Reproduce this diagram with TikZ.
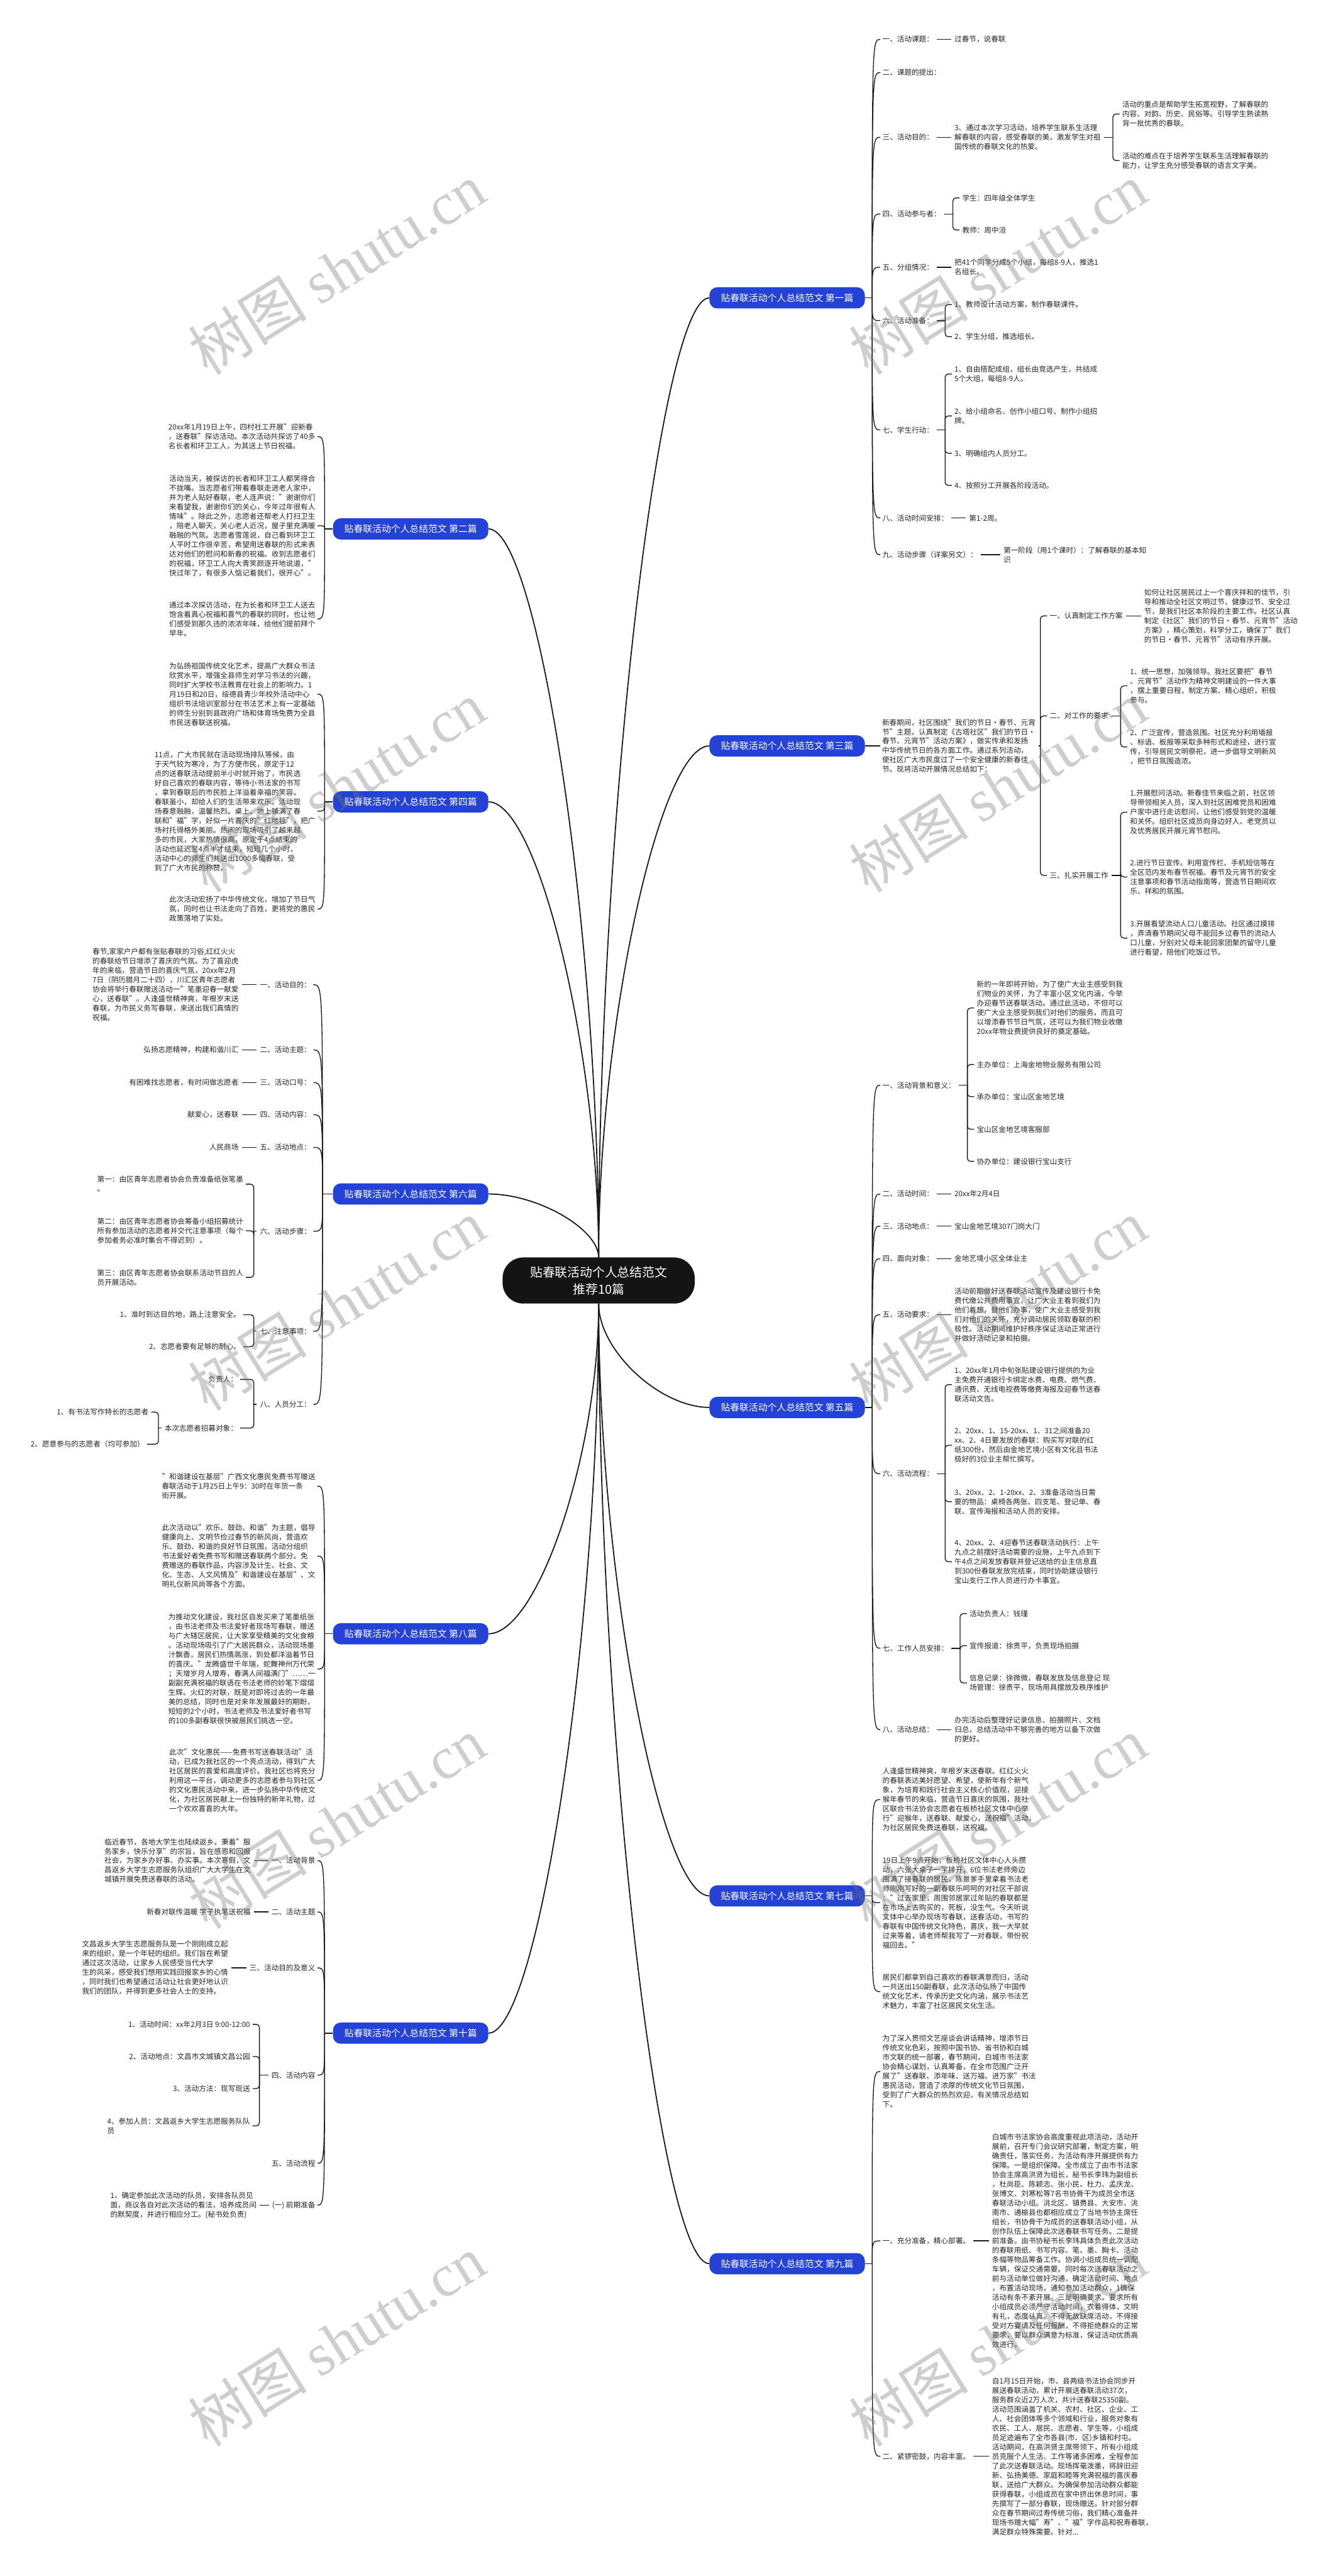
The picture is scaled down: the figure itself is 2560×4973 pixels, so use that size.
\documentclass[tikz,border=0pt]{standalone}
\usepackage{fontspec}
\setmainfont{Noto Sans CJK SC}
\newfontfamily\wmfont{Liberation Serif}
\usetikzlibrary{positioning}
\definecolor{pianblue}{HTML}{2443D6}

\begin{document}
\begin{tikzpicture}[
    x=1pt, y=-1pt,
    root/.style={
        rectangle, fill=black!92, text=white, rounded corners=40pt,
        align=center, minimum width=371pt, minimum height=89pt,
        font=\fontsize{24}{33}\selectfont
    },
    pian/.style={
        rectangle, fill=pianblue, text=white, rounded corners=15pt,
        minimum width=300pt, minimum height=41pt, inner sep=0pt,
        font=\fontsize{18}{22}\selectfont
    },
    lab/.style={inner sep=0pt, text=black!85, font=\fontsize{14.1}{18.2}\selectfont},
    leaf/.style={lab, align=left},
    branch/.style={line width=2.2pt, black!90},
    conn/.style={line width=1.6pt, black!90},
    brk/.style={conn, rounded corners=6pt},
    wm/.style={rotate=32, text=black!55, text opacity=0.35,
        font=\fontsize{115}{115}\selectfont},
]
\fill[white] (0,0) rectangle (2560,4973);
\useasboundingbox (0,0) rectangle (2560,4973);

\node[root] (root) at (1156,2472) {贴春联活动个人总结范文\\推荐10篇};

\node[pian] (p1) at (1520,575) {贴春联活动个人总结范文 第一篇};
\node[pian] (p2) at (793,1021) {贴春联活动个人总结范文 第二篇};
\node[pian] (p3) at (1520,1440) {贴春联活动个人总结范文 第三篇};
\node[pian] (p4) at (793,1548) {贴春联活动个人总结范文 第四篇};
\node[pian] (p5) at (1520,2717) {贴春联活动个人总结范文 第五篇};
\node[pian] (p6) at (793,2305) {贴春联活动个人总结范文 第六篇};
\node[pian] (p7) at (1520,3660) {贴春联活动个人总结范文 第七篇};
\node[pian] (p8) at (793,3154) {贴春联活动个人总结范文 第八篇};
\node[pian] (p9) at (1520,4370) {贴春联活动个人总结范文 第九篇};
\node[pian] (p10) at (793,3925) {贴春联活动个人总结范文 第十篇};

\draw[branch] (root.north) .. controls (1156,1594) and (1274,575) .. (p1.west);
\draw[branch] (root.north) .. controls (1156,1795) and (1039,1021) .. (p2.east);
\draw[branch] (root.north) .. controls (1156,1983) and (1274,1440) .. (p3.west);
\draw[branch] (root.north) .. controls (1156,2032) and (1039,1548) .. (p4.east);
\draw[branch] (root.south) .. controls (1156,2607) and (1274,2717) .. (p5.west);
\draw[branch] (root.north) .. controls (1156,2373) and (1039,2305) .. (p6.east);
\draw[branch] (root.south) .. controls (1156,3031) and (1274,3660) .. (p7.west);
\draw[branch] (root.south) .. controls (1156,2804) and (1039,3154) .. (p8.east);
\draw[branch] (root.south) .. controls (1156,3351) and (1274,4370) .. (p9.west);
\draw[branch] (root.south) .. controls (1156,3151) and (1039,3925) .. (p10.east);

\node[lab, anchor=west] (p1a) at (1704,76) {一、活动课题：};
\node[lab, anchor=west] (p1b) at (1704,140) {二、课题的提出：};
\node[lab, anchor=west] (p1c) at (1704,265) {三、活动目的：};
\node[lab, anchor=west] (p1d) at (1704,413) {四、活动参与者：};
\node[lab, anchor=west] (p1e) at (1704,516) {五、分组情况：};
\node[lab, anchor=west] (p1f) at (1704,619) {六、活动准备：};
\node[lab, anchor=west] (p1g) at (1704,830) {七、学生行动：};
\node[lab, anchor=west] (p1h) at (1704,1000) {八、活动时间安排：};
\node[lab, anchor=west] (p1i) at (1704,1071) {九、活动步骤（详案另文）：};
\node[leaf, right=40pt of p1a] (p1a1) {过春节，说春联};
\node[leaf, right=40pt of p1c] (p1c1) {3、通过本次学习活动，培养学生联系生活理\\解春联的内容，感受春联的美，激发学生对祖\\国传统的春联文化的热爱。};
\node[leaf, anchor=west] (p1c2) at (2167,220) {活动的重点是帮助学生拓宽视野，了解春联的\\内容、对韵、历史、民俗等。引导学生熟读熟\\背一批优秀的春联。};
\node[leaf, anchor=west] (p1c3) at (2167,310) {活动的难点在于培养学生联系生活理解春联的\\能力，让学生充分感受春联的语言文字美。};
\node[leaf, anchor=west] (p1d1) at (1858,382) {学生：四年级全体学生};
\node[leaf, anchor=west] (p1d2) at (1858,444) {教师：周中洹};
\node[leaf, right=40pt of p1e] (p1e1) {把41个同学分成5个小组，每组8-9人，推选1\\名组长。};
\node[leaf, anchor=west] (p1f1) at (1843,588) {1、教师设计活动方案，制作春联课件。};
\node[leaf, anchor=west] (p1f2) at (1843,650) {2、学生分组，推选组长。};
\node[leaf, anchor=west] (p1g1) at (1843,722) {1、自由搭配成组，组长由竞选产生，共结成\\5个大组，每组8-9人。};
\node[leaf, anchor=west] (p1g2) at (1843,803) {2、给小组命名、创作小组口号、制作小组招\\牌。};
\node[leaf, anchor=west] (p1g3) at (1843,875) {3、明确组内人员分工。};
\node[leaf, anchor=west] (p1g4) at (1843,937) {4、按照分工开展各阶段活动。};
\node[leaf, right=40pt of p1h] (p1h1) {第1-2周。};
\node[leaf, right=50pt of p1i] (p1i1) {第一阶段（用1个课时）：了解春联的基本知\\识};

\draw[conn] (p1.east) -- ++(14,0) coordinate (p1s);
\draw[conn] (p1s) .. controls (p1s |- p1a.west) .. ([xshift=-4pt]p1a.west);
\draw[conn] (p1s) .. controls (p1s |- p1b.west) .. ([xshift=-4pt]p1b.west);
\draw[conn] (p1s) .. controls (p1s |- p1c.west) .. ([xshift=-4pt]p1c.west);
\draw[conn] (p1s) .. controls (p1s |- p1d.west) .. ([xshift=-4pt]p1d.west);
\draw[conn] (p1s) .. controls (p1s |- p1e.west) .. ([xshift=-4pt]p1e.west);
\draw[conn] (p1s) .. controls (p1s |- p1f.west) .. ([xshift=-4pt]p1f.west);
\draw[conn] (p1s) .. controls (p1s |- p1g.west) .. ([xshift=-4pt]p1g.west);
\draw[conn] (p1s) .. controls (p1s |- p1h.west) .. ([xshift=-4pt]p1h.west);
\draw[conn] (p1s) .. controls (p1s |- p1i.west) .. ([xshift=-4pt]p1i.west);
\draw[conn] ([xshift=6pt]p1a.east) -- ([xshift=-6pt]p1a1.west);
\draw[conn] ([xshift=6pt]p1c.east) -- ([xshift=-6pt]p1c1.west);
\coordinate (p1cx) at (2149,265);
\draw[conn] ([xshift=6pt]p1c1.east) -- (p1cx);
\draw[brk] (p1cx) |- ([xshift=-5pt]p1c2.west);
\draw[brk] (p1cx) |- ([xshift=-5pt]p1c3.west);
\coordinate (p1dx) at (1840,413);
\draw[conn] ([xshift=6pt]p1d.east) -- (p1dx);
\draw[brk] (p1dx) |- ([xshift=-5pt]p1d1.west);
\draw[brk] (p1dx) |- ([xshift=-5pt]p1d2.west);
\draw[conn] ([xshift=6pt]p1e.east) -- ([xshift=-6pt]p1e1.west);
\coordinate (p1fx) at (1825,619);
\draw[conn] ([xshift=6pt]p1f.east) -- (p1fx);
\draw[brk] (p1fx) |- ([xshift=-5pt]p1f1.west);
\draw[brk] (p1fx) |- ([xshift=-5pt]p1f2.west);
\coordinate (p1gx) at (1825,830);
\draw[conn] ([xshift=6pt]p1g.east) -- (p1gx);
\draw[brk] (p1gx) |- ([xshift=-5pt]p1g1.west);
\draw[brk] (p1gx) |- ([xshift=-5pt]p1g2.west);
\draw[brk] (p1gx) |- ([xshift=-5pt]p1g3.west);
\draw[brk] (p1gx) |- ([xshift=-5pt]p1g4.west);
\draw[conn] ([xshift=6pt]p1h.east) -- ([xshift=-6pt]p1h1.west);
\draw[conn] ([xshift=6pt]p1i.east) -- ([xshift=-6pt]p1i1.west);

\node[leaf, right=33pt of p3] (p3a) {新春期间，社区围绕"我们的节日·春节、元宵\\节"主题，认真制定《古塔社区"我们的节日·\\春节、元宵节"活动方案》，做实传承和发扬\\中华传统节日的各方面工作。通过系列活动，\\使社区广大市民度过了一个安全健康的新春佳\\节。现将活动开展情况总结如下：};
\node[lab, anchor=west] (p3b) at (2027,1189) {一、认真制定工作方案};
\node[lab, anchor=west] (p3c) at (2027,1382) {二、对工作的要求};
\node[lab, anchor=west] (p3d) at (2027,1690) {三、扎实开展工作};
\node[leaf, right=41pt of p3b] (p3b1) {如何让社区居民过上一个喜庆祥和的佳节，引\\导和推动全社区文明过节，健康过节、安全过\\节，是我们社区本阶段的主要工作。社区认真\\制定《社区"我们的节日·春节、元宵节"活动\\方案》，精心策划，科学分工，确保了"我们\\的节日·春节、元宵节"活动有序开展。};
\node[leaf, anchor=west] (p3c1) at (2182,1324) {1、统一思想，加强领导。我社区要把"春节\\、元宵节"活动作为精神文明建设的一件大事\\，摆上重要日程，制定方案、精心组织，积极\\参与。};
\node[leaf, anchor=west] (p3c2) at (2182,1442) {2、广泛宣传，营造氛围。社区充分利用墙报\\、标语、板报等采取多种形式和途径，进行宣\\传，引导居民文明祭祀，进一步倡导文明新风\\，把节日氛围造浓。};
\node[leaf, anchor=west] (p3d1) at (2182,1568) {1.开展慰问活动。新春佳节来临之前，社区领\\导带领相关人员，深入到社区困难党员和困难\\户家中进行走访慰问，让他们感受到党的温暖\\和关怀。组织社区成员向身边好人、老党员以\\及优秀居民开展元宵节慰问。};
\node[leaf, anchor=west] (p3d2) at (2182,1693) {2.进行节日宣传。利用宣传栏、手机短信等在\\全区范内发布春节祝福、春节及元宵节的安全\\注意事项和春节活动指南等，营造节日期间欢\\乐、祥和的氛围。};
\node[leaf, anchor=west] (p3d3) at (2182,1811) {3.开展看望流动人口儿童活动。社区通过摸排\\，弄清春节期间父母不能回乡过春节的流动人\\口儿童，分别对父母未能回家团聚的留守儿童\\进行看望，陪他们吃饭过节。};

\draw[conn] (p3.east) -- ([xshift=-4pt]p3a.west);
\coordinate (p3ax) at (2009,1440);
\draw[conn] ([xshift=6pt]p3a.east) -- (p3ax);
\draw[brk] (p3ax) |- ([xshift=-5pt]p3b.west);
\draw[brk] (p3ax) |- ([xshift=-5pt]p3c.west);
\draw[brk] (p3ax) |- ([xshift=-5pt]p3d.west);
\draw[conn] ([xshift=6pt]p3b.east) -- ([xshift=-6pt]p3b1.west);
\coordinate (p3cx) at (2164,1382);
\draw[conn] ([xshift=6pt]p3c.east) -- (p3cx);
\draw[brk] (p3cx) |- ([xshift=-5pt]p3c1.west);
\draw[brk] (p3cx) |- ([xshift=-5pt]p3c2.west);
\coordinate (p3dx) at (2164,1690);
\draw[conn] ([xshift=6pt]p3d.east) -- (p3dx);
\draw[brk] (p3dx) |- ([xshift=-5pt]p3d1.west);
\draw[brk] (p3dx) |- ([xshift=-5pt]p3d2.west);
\draw[brk] (p3dx) |- ([xshift=-5pt]p3d3.west);

\node[lab, anchor=west] (p5a) at (1704,2095) {一、活动背景和意义：};
\node[lab, anchor=west] (p5b) at (1704,2305) {二、活动时间：};
\node[lab, anchor=west] (p5c) at (1704,2367) {三、活动地点：};
\node[lab, anchor=west] (p5d) at (1704,2430) {四、面向对象：};
\node[lab, anchor=west] (p5e) at (1704,2538) {五、活动要求：};
\node[lab, anchor=west] (p5f) at (1704,2845) {六、活动流程：};
\node[lab, anchor=west] (p5g) at (1704,3182) {七、工作人员安排：};
\node[lab, anchor=west] (p5h) at (1704,3339) {八、活动总结：};
\node[leaf, anchor=west] (p5a1) at (1886,1946) {新的一年即将开始，为了使广大业主感受到我\\们物业的关怀，为了丰富小区文化内涵，今举\\办迎春节送春联活动。通过此活动，不但可以\\使广大业主感受到我们对他们的服务，而且可\\以增添春节节日气氛，还可以为我们物业收缴\\20xx年物业费提供良好的奠定基础。};
\node[leaf, anchor=west] (p5a2) at (1886,2055) {主办单位：上海金地物业服务有限公司};
\node[leaf, anchor=west] (p5a3) at (1886,2117) {承办单位：宝山区金地艺境};
\node[leaf, anchor=west] (p5a4) at (1886,2180) {宝山区金地艺境客服部};
\node[leaf, anchor=west] (p5a5) at (1886,2242) {协办单位：建设银行宝山支行};
\node[leaf, right=40pt of p5b] (p5b1) {20xx年2月4日};
\node[leaf, right=40pt of p5c] (p5c1) {宝山金地艺境307门岗大门};
\node[leaf, right=40pt of p5d] (p5d1) {金地艺境小区全体业主};
\node[leaf, right=40pt of p5e] (p5e1) {活动前期做好送春联活动宣传及建设银行卡免\\费代缴公共费用事宜，让广大业主看到我们为\\他们着想，替他们办事，使广大业主感受到我\\们对他们的关怀，充分调动居民领取春联的积\\极性。活动期间维护好秩序保证活动正常进行\\并做好活动记录和拍摄。};
\node[leaf, anchor=west] (p5f1) at (1843,2673) {1、20xx年1月中旬张贴建设银行提供的为业\\主免费开通银行卡绑定水费、电费、燃气费、\\通讯费、无线电视费等缴费海报及迎春节送春\\联活动文告。};
\node[leaf, anchor=west] (p5f2) at (1843,2790) {2、20xx、1、15-20xx、1、31之间准备20\\xx、2、4日要发放的春联：购买写对联的红\\纸300份，然后由金地艺境小区有文化且书法\\极好的3位业主帮忙撰写。};
\node[leaf, anchor=west] (p5f3) at (1843,2899) {3、20xx、2、1-20xx、2、3准备活动当日需\\要的物品：桌椅各两张、四支笔、登记单、春\\联、宣传海报和活动人员的安排。};
\node[leaf, anchor=west] (p5f4) at (1843,3015) {4、20xx、2、4迎春节送春联活动执行：上午\\九点之前摆好活动需要的设施，上午九点到下\\午4点之间发放春联并登记送给的业主信息直\\到300份春联发放完结束，同时协助建设银行\\宝山支行工作人员进行办卡事宜。};
\node[leaf, anchor=west] (p5g1) at (1872,3115) {活动负责人：钱瑾};
\node[leaf, anchor=west] (p5g2) at (1872,3177) {宣传报道：徐贵平，负责现场拍摄};
\node[leaf, anchor=west] (p5g3) at (1872,3249) {信息记录：徐微微，春联发放及信息登记 现\\场管理：徐贵平，现场用具摆放及秩序维护};
\node[leaf, right=40pt of p5h] (p5h1) {办完活动后整理好记录信息、拍摄照片、文档\\归总，总结活动中不够完善的地方以备下次做\\的更好。};

\draw[conn] (p5.east) -- ++(14,0) coordinate (p5s);
\draw[conn] (p5s) .. controls (p5s |- p5a.west) .. ([xshift=-4pt]p5a.west);
\draw[conn] (p5s) .. controls (p5s |- p5b.west) .. ([xshift=-4pt]p5b.west);
\draw[conn] (p5s) .. controls (p5s |- p5c.west) .. ([xshift=-4pt]p5c.west);
\draw[conn] (p5s) .. controls (p5s |- p5d.west) .. ([xshift=-4pt]p5d.west);
\draw[conn] (p5s) .. controls (p5s |- p5e.west) .. ([xshift=-4pt]p5e.west);
\draw[conn] (p5s) .. controls (p5s |- p5f.west) .. ([xshift=-4pt]p5f.west);
\draw[conn] (p5s) .. controls (p5s |- p5g.west) .. ([xshift=-4pt]p5g.west);
\draw[conn] (p5s) .. controls (p5s |- p5h.west) .. ([xshift=-4pt]p5h.west);
\coordinate (p5ax) at (1868,2095);
\draw[conn] ([xshift=6pt]p5a.east) -- (p5ax);
\draw[brk] (p5ax) |- ([xshift=-5pt]p5a1.west);
\draw[brk] (p5ax) |- ([xshift=-5pt]p5a2.west);
\draw[brk] (p5ax) |- ([xshift=-5pt]p5a3.west);
\draw[brk] (p5ax) |- ([xshift=-5pt]p5a4.west);
\draw[brk] (p5ax) |- ([xshift=-5pt]p5a5.west);
\draw[conn] ([xshift=6pt]p5b.east) -- ([xshift=-6pt]p5b1.west);
\draw[conn] ([xshift=6pt]p5c.east) -- ([xshift=-6pt]p5c1.west);
\draw[conn] ([xshift=6pt]p5d.east) -- ([xshift=-6pt]p5d1.west);
\draw[conn] ([xshift=6pt]p5e.east) -- ([xshift=-6pt]p5e1.west);
\coordinate (p5fx) at (1825,2845);
\draw[conn] ([xshift=6pt]p5f.east) -- (p5fx);
\draw[brk] (p5fx) |- ([xshift=-5pt]p5f1.west);
\draw[brk] (p5fx) |- ([xshift=-5pt]p5f2.west);
\draw[brk] (p5fx) |- ([xshift=-5pt]p5f3.west);
\draw[brk] (p5fx) |- ([xshift=-5pt]p5f4.west);
\coordinate (p5gx) at (1854,3182);
\draw[conn] ([xshift=6pt]p5g.east) -- (p5gx);
\draw[brk] (p5gx) |- ([xshift=-5pt]p5g1.west);
\draw[brk] (p5gx) |- ([xshift=-5pt]p5g2.west);
\draw[brk] (p5gx) |- ([xshift=-5pt]p5g3.west);
\draw[conn] ([xshift=6pt]p5h.east) -- ([xshift=-6pt]p5h1.west);

\node[leaf, anchor=west] (p7a) at (1704,3474) {人逢盛世精神爽，年根岁末送春联。红红火火\\的春联表达美好愿望、希望，使新年有个新气\\象，为培育和践行社会主义核心价值观，迎接\\猴年春节的来临，营造节日喜庆的氛围，我社\\区联合书法协会志愿者在板桥社区文体中心举\\行"迎猴年，送春联、献爱心，送祝福"活动，\\为社区居民免费送春联，送祝福。};
\node[leaf, anchor=west] (p7b) at (1704,3673) {19日上午9点开始，板桥社区文体中心人头攒\\动，六张大桌子一字排开，6位书法老师旁边\\围满了接春联的居民，陈景爹手里拿着书法老\\师刚刚写好的一副春联乐呵呵的对社区干部说\\："过去家里，周围邻居家过年贴的春联都是\\在市场上去购买的，死板，没生气。今天听说\\文体中心举办现场写春联，送春活动，书写的\\春联有中国传统文化特色，喜庆，我一大早就\\过来等着，请老师帮我写了一对春联，带份祝\\福回去。"};
\node[leaf, anchor=west] (p7c) at (1704,3845) {居民们都拿到自己喜欢的春联满意而归，活动\\一共送出150副春联，此次活动弘扬了中国传\\统文化艺术，传承历史文化内涵，展示书法艺\\术魅力，丰富了社区居民文化生活。};
\draw[conn] (p7.east) -- ++(14,0) coordinate (p7s);
\draw[conn] (p7s) .. controls (p7s |- p7a.west) .. ([xshift=-4pt]p7a.west);
\draw[conn] (p7s) .. controls (p7s |- p7b.west) .. ([xshift=-4pt]p7b.west);
\draw[conn] (p7s) .. controls (p7s |- p7c.west) .. ([xshift=-4pt]p7c.west);

\node[leaf, anchor=west] (p9a) at (1704,3999) {为了深入贯彻文艺座谈会讲话精神，增添节日\\传统文化色彩，按照中国书协、省书协和白城\\市文联的统一部署，春节期间，白城市书法家\\协会精心谋划，认真筹备，在全市范围广泛开\\展了"送春联、添年味、送万福、进万家"书法\\惠民活动，营造了浓厚的传统文化节日氛围，\\受到了广大群众的热烈欢迎，有关情况总结如\\下。};
\node[lab, anchor=west] (p9b) at (1704,4326) {一、充分准备，精心部署。};
\node[lab, anchor=west] (p9c) at (1704,4742) {二、紧锣密鼓，内容丰富。};
\node[leaf, right=42pt of p9b] (p9b1) {白城市书法家协会高度重视此项活动，活动开\\展前，召开专门会议研究部署，制定方案，明\\确责任，落实任务，为活动有序开展提供有力\\保障。一是组织保障。全市成立了由市书法家\\协会主席高洪贤为组长，秘书长李玮为副组长\\，杜尚臣、陈颖志、张小民、杜力、孟庆龙、\\张博文、刘寒松等7名书协骨干为成员全市送\\春联活动小组。洮北区、镇赉县、大安市、洮\\南市、通榆县也都相应成立了当地书协主席任\\组长，书协骨干为成员的送春联活动小组，从\\创作队伍上保障此次送春联书写任务。二是提\\前准备。由书协秘书长李玮具体负责此次活动\\的春联用纸、书写内容、笔、墨、胸卡、活动\\条幅等物品筹备工作。协调小组成员统一调配\\车辆，保证交通需要。同时每次送春联活动之\\前与活动单位做好沟通，确定活动时间、地点\\，布置活动现场，通知参加活动群众，1确保\\活动有条不紊开展。三是明确要求。要求所有\\小组成员必须严守活动时间，衣着得体，文明\\有礼，态度认真。不得无故缺席活动，不得接\\受对方宴请及任何报酬，不得拒绝群众的正常\\要求，要以群众满意为标准，保证活动优质高\\效进行。};
\node[leaf, right=42pt of p9c] (p9c1) {自1月15日开始，市、县两级书法协会同步开\\展送春联活动，累计开展送春联活动37次，\\服务群众近2万人次，共计送春联25350副。\\活动范围涵盖了机关、农村、社区、企业、工\\人、社会团体等多个领域和行业，服务对象有\\农民、工人、居民、志愿者、学生等，小组成\\员足迹遍布了全市各县(市、区)乡镇和村屯。\\活动期间，在高洪贤主席带领下，所有小组成\\员克服个人生活、工作等诸多困难，全程参加\\了此次送春联活动。现场挥毫泼墨，将辞旧迎\\新、弘扬美德、家庭和睦等充满祝福的喜庆春\\联，送给广大群众。为确保参加活动群众都能\\获得春联，小组成员在家中挤出休息时间，事\\先撰写了一部分春联，现场赠送。针对部分群\\众在春节期间过寿传统习俗，我们精心准备并\\现场书赠大幅"寿"、"福"字作品和祝寿春联，\\满足群众特殊需要。针对...};
\draw[conn] (p9.east) -- ++(14,0) coordinate (p9s);
\draw[conn] (p9s) .. controls (p9s |- p9a.west) .. ([xshift=-4pt]p9a.west);
\draw[conn] (p9s) .. controls (p9s |- p9b.west) .. ([xshift=-4pt]p9b.west);
\draw[conn] (p9s) .. controls (p9s |- p9c.west) .. ([xshift=-4pt]p9c.west);
\draw[conn] ([xshift=6pt]p9b.east) -- ([xshift=-6pt]p9b1.west);
\draw[conn] ([xshift=6pt]p9c.east) -- ([xshift=-6pt]p9c1.west);

\node[leaf, anchor=east] (p2a) at (609,843) {20xx年1月19日上午，四村社工开展"迎新春\\，送春联"探访活动。本次活动共探访了40多\\名长者和环卫工人，为其送上节日祝福。};
\node[leaf, anchor=east] (p2b) at (609,1015) {活动当天，被探访的长者和环卫工人都笑得合\\不拢嘴。当志愿者们带着春联走进老人家中，\\并为老人贴好春联，老人连声说："谢谢你们\\来看望我，谢谢你们的关心，今年过年很有人\\情味"。除此之外，志愿者还帮老人打扫卫生\\，陪老人聊天，关心老人近况，屋子里充满暖\\融融的气氛。志愿者雪莲说，自己看到环卫工\\人平时工作很辛苦，希望用送春联的形式来表\\达对他们的慰问和新春的祝福。收到志愿者们\\的祝福，环卫工人向大青笑颜逐开地说道，"\\快过年了，有很多人惦记着我们，很开心"。};
\node[leaf, anchor=east] (p2c) at (609,1195) {通过本次探访活动，在为长者和环卫工人送去\\饱含着真心祝福和喜气的春联的同时，也让他\\们感受到那久违的浓浓年味，给他们提前拜个\\早年。};
\draw[conn] (p2.west) -- ++(-16,0) coordinate (p2s);
\draw[conn] (p2s) .. controls (p2s |- p2a.east) .. ([xshift=4pt]p2a.east);
\draw[conn] (p2s) .. controls (p2s |- p2b.east) .. ([xshift=4pt]p2b.east);
\draw[conn] (p2s) .. controls (p2s |- p2c.east) .. ([xshift=4pt]p2c.east);

\node[leaf, anchor=east] (p4a) at (609,1340) {为弘扬祖国传统文化艺术，提高广大群众书法\\欣赏水平，增强全县师生对学习书法的兴趣，\\同时扩大学校书法教育在社会上的影响力。1\\月19日和20日，绥德县青少年校外活动中心\\组织书法培训室部分在书法艺术上有一定基础\\的师生分别到县政府广场和体育场免费为全县\\市民送春联送祝福。};
\node[leaf, anchor=east] (p4b) at (609,1566) {11点，广大市民就在活动现场排队等候，由\\于天气较为寒冷，为了方便市民，原定于12\\点的送春联活动提前半小时就开始了，市民选\\好自己喜欢的春联内容，等待小书法家的书写\\，拿到春联后的市民脸上洋溢着幸福的笑容。\\春联虽小，却给人们的生活带来欢乐。活动现\\场春意融融，温馨热烈。桌上、地上铺满了春\\联和"福"字，好似一片喜庆的"红地毯"，把广\\场衬托得格外美丽。热闹的现场吸引了越来越\\多的市民，大家热情很高，原定于4点结束的\\活动也延迟至4点半才结束，短短几个小时，\\活动中心的师生们共送出1000多幅春联，受\\到了广大市民的称赞。};
\node[leaf, anchor=east] (p4c) at (609,1755) {此次活动宏扬了中华传统文化，增加了节日气\\氛，同时也让书法走向了百姓，更将党的惠民\\政策落地了实处。};
\draw[conn] (p4.west) -- ++(-16,0) coordinate (p4s);
\draw[conn] (p4s) .. controls (p4s |- p4a.east) .. ([xshift=4pt]p4a.east);
\draw[conn] (p4s) .. controls (p4s |- p4b.east) .. ([xshift=4pt]p4b.east);
\draw[conn] (p4s) .. controls (p4s |- p4c.east) .. ([xshift=4pt]p4c.east);

\node[lab, anchor=east] (p6a) at (601,1901) {一、活动目的：};
\node[lab, anchor=east] (p6b) at (601,2027) {二、活动主题：};
\node[lab, anchor=east] (p6c) at (601,2090) {三、活动口号：};
\node[lab, anchor=east] (p6d) at (601,2152) {四、活动内容：};
\node[lab, anchor=east] (p6e) at (601,2215) {五、活动地点：};
\node[lab, anchor=east] (p6f) at (601,2377) {六、活动步骤：};
\node[lab, anchor=east] (p6g) at (601,2570) {七、注意事项：};
\node[lab, anchor=east] (p6h) at (601,2711) {八、人员分工：};
\node[leaf, left=41pt of p6a] (p6a1) {春节,家家户户都有张贴春联的习俗,红红火火\\的春联给节日增添了喜庆的气氛。为了喜迎虎\\年的来临，营造节日的喜庆气氛，20xx年2月\\7日（阴历腊月二十四），川汇区青年志愿者\\协会将举行春联赠送活动一"笔墨迎春一献爱\\心，送春联"。人逢盛世精神爽，年根岁末送\\春联，为市民义务写春联，来送出我们真情的\\祝福。};
\node[leaf, left=41pt of p6b] (p6b1) {弘扬志愿精神，构建和谐川汇};
\node[leaf, left=41pt of p6c] (p6c1) {有困难找志愿者，有时间做志愿者};
\node[leaf, left=41pt of p6d] (p6d1) {献爱心，送春联};
\node[leaf, left=41pt of p6e] (p6e1) {人民商场};
\node[leaf, anchor=east] (p6f1) at (470,2286) {第一：由区青年志愿者协会负责准备纸张笔墨\\。};
\node[leaf, anchor=east] (p6f2) at (470,2376) {第二：由区青年志愿者协会筹备小组招募统计\\所有参加活动的志愿者并交代注意事项（每个\\参加者务必准时集合不得迟到）。};
\node[leaf, anchor=east] (p6f3) at (470,2466) {第三：由区青年志愿者协会联系活动节目的人\\员开展活动。};
\node[leaf, anchor=east] (p6g1) at (465,2538) {1、准时到达目的地，路上注意安全。};
\node[leaf, anchor=east] (p6g2) at (465,2600) {2、志愿者要有足够的耐心。};
\node[leaf, anchor=east] (p6h1) at (459,2663) {负责人：};
\node[leaf, anchor=east] (p6h2) at (459,2757) {本次志愿者招募对象：};
\node[leaf, anchor=east] (p6h2a) at (287,2726) {1、有书法写作特长的志愿者};
\node[leaf, anchor=east] (p6h2b) at (279,2788) {2、愿意参与的志愿者（均可参加）};

\draw[conn] (p6.west) -- ++(-20,0) coordinate (p6s);
\draw[conn] (p6s) .. controls (p6s |- p6a.east) .. ([xshift=4pt]p6a.east);
\draw[conn] (p6s) .. controls (p6s |- p6b.east) .. ([xshift=4pt]p6b.east);
\draw[conn] (p6s) .. controls (p6s |- p6c.east) .. ([xshift=4pt]p6c.east);
\draw[conn] (p6s) .. controls (p6s |- p6d.east) .. ([xshift=4pt]p6d.east);
\draw[conn] (p6s) .. controls (p6s |- p6e.east) .. ([xshift=4pt]p6e.east);
\draw[conn] (p6s) .. controls (p6s |- p6f.east) .. ([xshift=4pt]p6f.east);
\draw[conn] (p6s) .. controls (p6s |- p6g.east) .. ([xshift=4pt]p6g.east);
\draw[conn] (p6s) .. controls (p6s |- p6h.east) .. ([xshift=4pt]p6h.east);
\draw[conn] ([xshift=-6pt]p6a.west) -- ([xshift=6pt]p6a1.east);
\draw[conn] ([xshift=-6pt]p6b.west) -- ([xshift=6pt]p6b1.east);
\draw[conn] ([xshift=-6pt]p6c.west) -- ([xshift=6pt]p6c1.east);
\draw[conn] ([xshift=-6pt]p6d.west) -- ([xshift=6pt]p6d1.east);
\draw[conn] ([xshift=-6pt]p6e.west) -- ([xshift=6pt]p6e1.east);
\coordinate (p6fx) at (490,2377);
\draw[conn] ([xshift=-6pt]p6f.west) -- (p6fx);
\draw[brk] (p6fx) |- ([xshift=5pt]p6f1.east);
\draw[brk] (p6fx) |- ([xshift=5pt]p6f2.east);
\draw[brk] (p6fx) |- ([xshift=5pt]p6f3.east);
\coordinate (p6gx) at (490,2570);
\draw[conn] ([xshift=-6pt]p6g.west) -- (p6gx);
\draw[brk] (p6gx) |- ([xshift=5pt]p6g1.east);
\draw[brk] (p6gx) |- ([xshift=5pt]p6g2.east);
\coordinate (p6hx) at (490,2711);
\draw[conn] ([xshift=-6pt]p6h.west) -- (p6hx);
\draw[brk] (p6hx) |- ([xshift=5pt]p6h1.east);
\draw[brk] (p6hx) |- ([xshift=5pt]p6h2.east);
\coordinate (p6h2x) at (306,2757);
\draw[conn] ([xshift=-6pt]p6h2.west) -- (p6h2x);
\draw[brk] (p6h2x) |- ([xshift=5pt]p6h2a.east);
\draw[brk] (p6h2x) |- ([xshift=5pt]p6h2b.east);

\node[leaf, anchor=east] (p8a) at (609,2869) {"和谐建设在基层"广西文化惠民免费书写赠送\\春联活动于1月25日上午9：30时在年货一条\\街开展。};
\node[leaf, anchor=east] (p8b) at (609,3004) {此次活动以"欢乐、鼓劲、和谐"为主题，倡导\\健康向上、文明节俭过春节的新风尚，营造欢\\乐、鼓劲、和谐的良好节日氛围，活动分组织\\书法爱好者免费书写和赠送春联两个部分。免\\费赠送的春联作品，内容涉及计生、社会、文\\化、生态、人文风情及"和谐建设在基层"、文\\明礼仪新风尚等各个方面。};
\node[leaf, anchor=east] (p8c) at (609,3222) {为推动文化建设，我社区自发买来了笔墨纸张\\，由书法老师及书法爱好者现场写春联，赠送\\与广大辖区居民，让大家享受精美的文化食粮\\。活动现场吸引了广大居民群众，活动现场墨\\汁飘香，居民们热情高涨，到处都洋溢着节日\\的喜庆。"龙腾盛世千年瑞，蛇舞神州万代荣\\；天增岁月人增寿，春满人间福满门"……一\\副副充满祝福的联语在书法老师的妙笔下熠熠\\生辉。火红的对联，既是对即将过去的一年最\\美的总结，同时也是对来年发展最好的期盼，\\短短的2个小时，书法老师及书法爱好者书写\\的100多副春联很快被居民们挑选一空。};
\node[leaf, anchor=east] (p8d) at (609,3437) {此次"文化惠民——免费书写送春联活动"活\\动，已成为我社区的一个亮点活动，得到广大\\社区居民的喜爱和高度评价。我社区也将充分\\利用这一平台，调动更多的志愿者参与到社区\\的文化惠民活动中来，进一步弘扬中华传统文\\化，为社区居民献上一份独特的新年礼物，过\\一个欢欢喜喜的大年。};
\draw[conn] (p8.west) -- ++(-16,0) coordinate (p8s);
\draw[conn] (p8s) .. controls (p8s |- p8a.east) .. ([xshift=4pt]p8a.east);
\draw[conn] (p8s) .. controls (p8s |- p8b.east) .. ([xshift=4pt]p8b.east);
\draw[conn] (p8s) .. controls (p8s |- p8c.east) .. ([xshift=4pt]p8c.east);
\draw[conn] (p8s) .. controls (p8s |- p8d.east) .. ([xshift=4pt]p8d.east);

\node[lab, anchor=east] (p10a) at (609,3592) {一、活动背景};
\node[lab, anchor=east] (p10b) at (609,3691) {二、活动主题};
\node[lab, anchor=east] (p10c) at (609,3799) {三、活动目的及意义};
\node[lab, anchor=east] (p10d) at (609,4006) {四、活动内容};
\node[lab, anchor=east] (p10e) at (609,4176) {五、活动流程};
\node[lab, anchor=east] (p10f) at (609,4257) {(一) 前期准备};
\node[leaf, left=40pt of p10a] (p10a1) {临近春节，各地大学生也陆续返乡。秉着"服\\务家乡，快乐分享"的宗旨，旨在感恩和回报\\社会，为家乡办好事、办实事。本次寒假，文\\昌返乡大学生志愿服务队组织广大大学生在文\\城镇开展免费送春联的活动。};
\node[leaf, left=40pt of p10b] (p10b1) {新春对联传温暖 学子执笔送祝福};
\node[leaf, left=41pt of p10c] (p10c1) {文昌返乡大学生志愿服务队是一个刚刚成立起\\来的组织，是一个年轻的组织。我们旨在希望\\通过这次活动，让家乡人民感受当代大学\\生的风采，感受我们想用实践回报家乡的心情\\，同时我们也希望通过活动让社会更好地认识\\我们的团队，并得到更多社会人士的支持。};
\node[leaf, anchor=east] (p10d1) at (483,3908) {1、活动时间：xx年2月3日 9:00-12:00};
\node[leaf, anchor=east] (p10d2) at (483,3970) {2、活动地点：文昌市文城镇文昌公园};
\node[leaf, anchor=east] (p10d3) at (483,4032) {3、活动方法：现写现送};
\node[leaf, anchor=east] (p10d4) at (483,4104) {4、参加人员：文昌返乡大学生志愿服务队队\\员};
\node[leaf, left=30pt of p10f] (p10f1) {1、确定参加此次活动的队员，安排各队员见\\面，商议各自对此次活动的看法，培养成员间\\的默契度，并进行相应分工。(秘书处负责)};
\draw[conn] (p10.west) -- ++(-16,0) coordinate (p10s);
\draw[conn] (p10s) .. controls (p10s |- p10a.east) .. ([xshift=4pt]p10a.east);
\draw[conn] (p10s) .. controls (p10s |- p10b.east) .. ([xshift=4pt]p10b.east);
\draw[conn] (p10s) .. controls (p10s |- p10c.east) .. ([xshift=4pt]p10c.east);
\draw[conn] (p10s) .. controls (p10s |- p10d.east) .. ([xshift=4pt]p10d.east);
\draw[conn] (p10s) .. controls (p10s |- p10e.east) .. ([xshift=4pt]p10e.east);
\draw[conn] (p10s) .. controls (p10s |- p10f.east) .. ([xshift=4pt]p10f.east);
\draw[conn] ([xshift=-6pt]p10a.west) -- ([xshift=6pt]p10a1.east);
\draw[conn] ([xshift=-6pt]p10b.west) -- ([xshift=6pt]p10b1.east);
\draw[conn] ([xshift=-6pt]p10c.west) -- ([xshift=6pt]p10c1.east);
\coordinate (p10dx) at (501,4006);
\draw[conn] ([xshift=-6pt]p10d.west) -- (p10dx);
\draw[brk] (p10dx) |- ([xshift=5pt]p10d1.east);
\draw[brk] (p10dx) |- ([xshift=5pt]p10d2.east);
\draw[brk] (p10dx) |- ([xshift=5pt]p10d3.east);
\draw[brk] (p10dx) |- ([xshift=5pt]p10d4.east);
\draw[conn] ([xshift=-6pt]p10f.west) -- ([xshift=6pt]p10f1.east);

\node[wm] (wm1) at (650,519) {树图 {\wmfont shutu.cn}};
\node[wm] (wm2) at (650,1519) {树图 {\wmfont shutu.cn}};
\node[wm] (wm3) at (650,2519) {树图 {\wmfont shutu.cn}};
\node[wm] (wm4) at (650,3519) {树图 {\wmfont shutu.cn}};
\node[wm] (wm5) at (650,4519) {树图 {\wmfont shutu.cn}};
\node[wm] (wm6) at (1927,519) {树图 {\wmfont shutu.cn}};
\node[wm] (wm7) at (1927,1519) {树图 {\wmfont shutu.cn}};
\node[wm] (wm8) at (1927,2519) {树图 {\wmfont shutu.cn}};
\node[wm] (wm9) at (1927,3519) {树图 {\wmfont shutu.cn}};
\node[wm] (wm10) at (1927,4519) {树图 {\wmfont shutu.cn}};
\end{tikzpicture}
\end{document}
